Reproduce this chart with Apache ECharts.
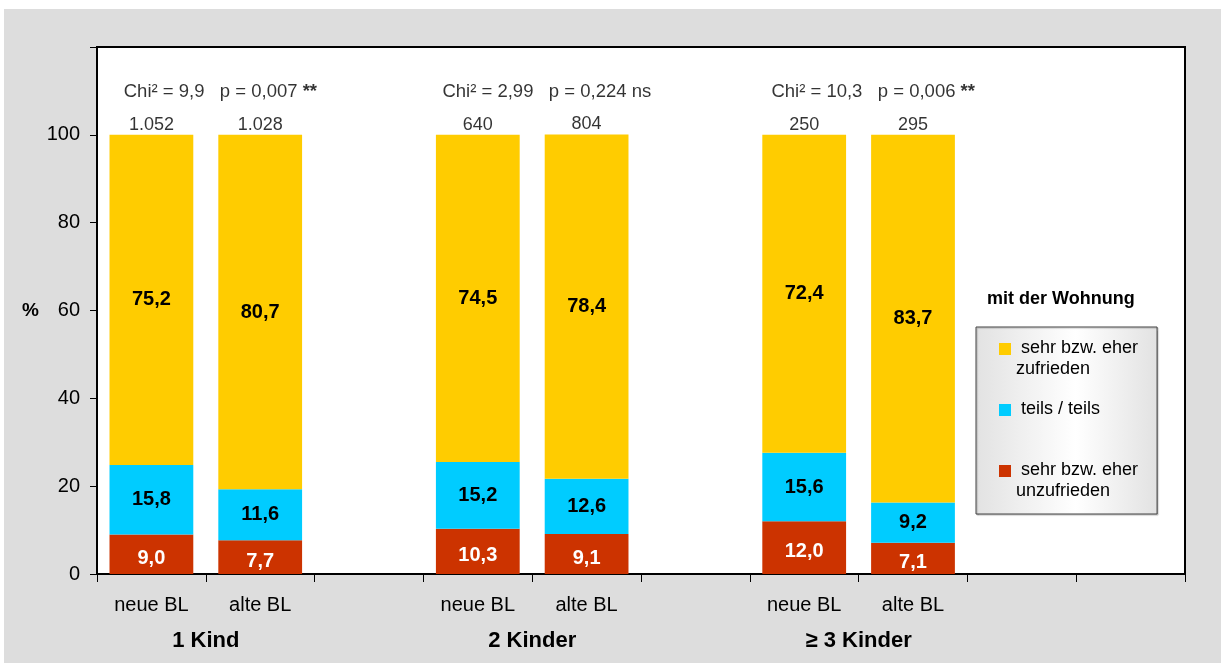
<!DOCTYPE html>
<html>
<head>
<meta charset="utf-8">
<script src="https://cdn.jsdelivr.net/npm/echarts@6/dist/echarts.min.js"></script>
<style>
  html, body { margin: 0; padding: 0; background: #ffffff; }
  #chart { width: 1221px; height: 670px; }
</style>
</head>
<body>
<div id="chart"></div>
<script>
// Categories along the x axis (empty slots separate the groups)
const categories = ['neue BL', 'alte BL', '', 'neue BL', 'alte BL', '', 'neue BL', 'alte BL', '', ''];
const groupNames = ['1 Kind', '2 Kinder', '≥ 3 Kinder'];

// Shares in percent per category
const unzufrieden = [9.0, 7.7, null, 10.3, 9.1, null, 12.0, 7.1, null, null];
const teils       = [15.8, 11.6, null, 15.2, 12.6, null, 15.6, 9.2, null, null];
const zufrieden   = [75.2, 80.7, null, 74.5, 78.4, null, 72.4, 83.7, null, null];

// Sample sizes above each bar
const sampleSizes = ['1.052', '1.028', null, '640', '804', null, '250', '295', null, null];

// Chi-square test per group: statistic, p value, significance mark
const chiStats  = ['9,9', '2,99', '10,3'];
const pValues   = ['0,007', '0,224', '0,006'];
const sigMarks  = ['**', 'ns', '**'];

const yTicks = [0, 20, 40, 60, 80, 100];

const seriesNames  = ['sehr bzw. eher unzufrieden', 'teils / teils', 'sehr bzw. eher zufrieden'];
const legendOrder  = ['sehr bzw. eher zufrieden', 'teils / teils', 'sehr bzw. eher unzufrieden'];
const legendLabels = {
  'sehr bzw. eher zufrieden': ' sehr bzw. eher\nzufrieden',
  'teils / teils': ' teils / teils\n ',
  'sehr bzw. eher unzufrieden': ' sehr bzw. eher\nunzufrieden'
};

const FONT = "'Liberation Sans', Arial, Helvetica, sans-serif";
const fmt = v => v.toFixed(1).replace('.', ',');

const totals = categories.map((c, i) =>
  unzufrieden[i] == null ? null : unzufrieden[i] + teils[i] + zufrieden[i]);

// One anchor per group (at its first bar) for the test result line
const chiAnchors = totals.map((t, i) => (i % 3 === 0 && i / 3 < groupNames.length) ? t : null);

function barSeries(name, data, color, labelColor, labelOffset) {
  return {
    name: name,
    type: 'bar',
    stack: 'share',
    data: data,
    barWidth: '77%',
    itemStyle: { color: color },
    label: {
      show: true,
      position: 'inside',
      offset: labelOffset,
      formatter: p => fmt(p.value),
      color: labelColor,
      fontFamily: FONT,
      fontWeight: 'bold',
      fontSize: 20
    }
  };
}

const chart = echarts.init(document.getElementById('chart'), null, { renderer: 'canvas' });

chart.setOption({
  animation: false,
  backgroundColor: '#ffffff',
  graphic: [{
    type: 'rect',
    z: -10,
    shape: { x: 4, y: 9, width: 1217, height: 654 },
    style: { fill: '#dddddd' }
  }],
  title: {
    text: 'mit der Wohnung',
    left: 987,
    top: 290,
    padding: 0,
    textStyle: { fontFamily: FONT, fontWeight: 'bold', fontSize: 18, color: '#000' }
  },
  legend: {
    data: legendOrder,
    orient: 'vertical',
    left: 976,
    top: 327,
    padding: [11, 19, 12, 23],
    itemWidth: 12,
    itemHeight: 32,
    itemGap: 19,
    icon: 'path://M0,0h12v12h-12zM0,32h12',
    selectedMode: false,
    formatter: name => legendLabels[name],
    textStyle: { fontFamily: FONT, fontSize: 18, lineHeight: 21, color: '#000' },
    backgroundColor: {
      type: 'linear', x: 0, y: 0, x2: 1, y2: 0,
      colorStops: [
        { offset: 0, color: '#e2e2e2' },
        { offset: 0.55, color: '#ffffff' },
        { offset: 1, color: '#e2e2e2' }
      ]
    },
    borderColor: '#444',
    borderWidth: 1,
    shadowColor: 'rgba(0,0,0,0.25)',
    shadowBlur: 1,
    shadowOffsetX: 1,
    shadowOffsetY: 1
  },
  grid: {
    left: 97, right: 36, top: 47, bottom: 96,
    show: true,
    backgroundColor: '#ffffff',
    borderColor: '#000',
    borderWidth: 2
  },
  xAxis: [{
    type: 'category',
    data: categories,
    axisLine: { lineStyle: { color: '#000', width: 2 } },
    axisTick: { show: true, interval: 0, length: 8, lineStyle: { color: '#000', width: 1 } },
    axisLabel: { interval: 0, margin: 21, fontFamily: FONT, fontSize: 20, color: '#000' },
    splitLine: { show: false }
  }, {
    // group captions, centred between the two bars of each group
    type: 'value',
    min: 0, max: categories.length, interval: 1,
    position: 'bottom',
    axisLine: { show: false },
    axisTick: { show: false },
    splitLine: { show: false },
    axisLabel: {
      margin: 56,
      fontFamily: FONT, fontSize: 22, fontWeight: 'bold', color: '#000',
      formatter: v => {
        const g = (v - 1) / 3;
        return Number.isInteger(g) && groupNames[g] ? groupNames[g] : '';
      }
    }
  }],
  yAxis: {
    type: 'value',
    min: 0, max: 120, interval: 20,
    name: '%',
    nameLocation: 'middle',
    nameRotate: 0,
    nameGap: 58,
    nameTextStyle: { fontFamily: FONT, fontSize: 19, fontWeight: 'bold', color: '#000' },
    axisLine: { show: true, lineStyle: { color: '#000', width: 2 } },
    axisTick: { show: true, length: 7, lineStyle: { color: '#000', width: 1 } },
    axisLabel: {
      margin: 17, fontFamily: FONT, fontSize: 20, color: '#000',
      formatter: v => yTicks.includes(v) ? String(v) : ''
    },
    splitLine: { show: false }
  },
  series: [
    barSeries(seriesNames[0], unzufrieden, '#cc3300', '#ffffff', [0, 4]),
    barSeries(seriesNames[1], teils, '#00ccff', '#000000', [0, 0]),
    barSeries(seriesNames[2], zufrieden, '#ffcc00', '#000000', [0, 0]),
    {
      name: 'n',
      type: 'scatter',
      data: totals,
      symbolSize: 0,
      silent: true,
      label: {
        show: true,
        position: 'top',
        distance: 1,
        formatter: p => sampleSizes[p.dataIndex] || '',
        fontFamily: FONT, fontSize: 18, color: '#000'
      }
    },
    {
      name: 'chi',
      type: 'scatter',
      data: chiAnchors,
      symbolSize: 0,
      silent: true,
      label: {
        show: true,
        position: 'top',
        distance: 33,
        offset: [69, 0],
        formatter: p => {
          const g = p.dataIndex / 3;
          const mark = sigMarks[g] === '**' ? '{b|**}' : '{t|' + sigMarks[g] + '}';
          return '{t|Chi² = ' + chiStats[g] + '   p = ' + pValues[g] + ' }' + mark;
        },
        rich: {
          t: { fontFamily: FONT, fontSize: 18.5, color: '#000' },
          b: { fontFamily: FONT, fontSize: 18.5, fontWeight: 'bold', color: '#000' }
        }
      }
    }
  ]
});
</script>
</body>
</html>
